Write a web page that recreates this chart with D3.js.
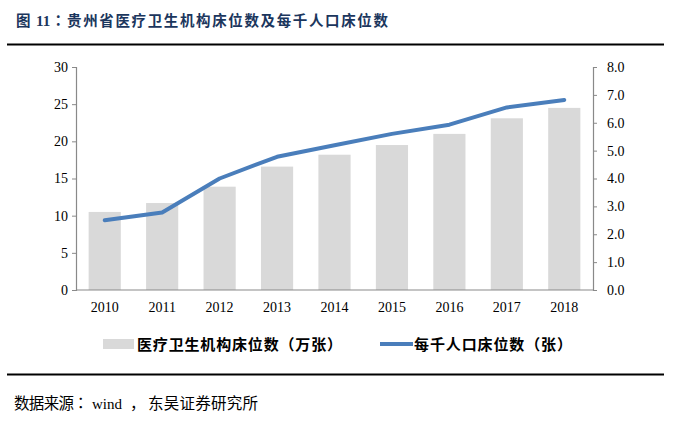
<!DOCTYPE html>
<html><head><meta charset="utf-8">
<script src="https://cdn.jsdelivr.net/npm/d3@7"></script>
<style>body{margin:0;background:#fff;}svg{display:block;}</style>
</head><body>
<svg id="c" width="686" height="428"></svg>
<script>
const years = ["2010","2011","2012","2013","2014","2015","2016","2017","2018"];
const beds = [10.5, 11.7, 13.9, 16.6, 18.2, 19.5, 21.0, 23.1, 24.5];
const bedsPerThousand = [2.50, 2.78, 4.00, 4.78, 5.19, 5.60, 5.93, 6.55, 6.82];
const leftTicks = [0,5,10,15,20,25,30];
const rightTicks = [0,1,2,3,4,5,6,7,8];
const titleParts = ["图", "11", "：", "贵州省医疗卫生机构床位数及每千人口床位数"];
const legendBar = "医疗卫生机构床位数（万张）";
const legendLine = "每千人口床位数（张）";
const sourceParts = ["数据来源", "：", "wind", "，", "东吴证券研究所"];

const svg = d3.select("#c");
const serif = "'Liberation Serif','Times New Roman',serif";
const cjk = "'Noto Sans CJK SC','Noto Sans',sans-serif";
const cjkTC = "'Noto Sans CJK TC','Noto Sans CJK SC',sans-serif";

// title
const tt = svg.append("text").attr("y", 26).attr("font-weight", "bold")
  .attr("font-size", 14.5).attr("fill", "#1b365d");
tt.append("tspan").attr("x", 16).attr("font-family", cjk).text(titleParts[0]);
tt.append("tspan").attr("x", 36).attr("font-family", serif).attr("font-size", 15).text(titleParts[1]);
tt.append("tspan").attr("x", 51).attr("font-family", cjkTC).text(titleParts[2]);
tt.append("tspan").attr("x", 67).attr("font-family", cjk).attr("textLength", 321)
  .attr("lengthAdjust", "spacing").text(titleParts[3]);
svg.append("line").attr("x1", 7).attr("x2", 664).attr("y1", 44.5).attr("y2", 44.5)
  .attr("stroke", "#000").attr("stroke-width", 2);

const L = 76, R = 593, T = 67, B = 290;
const x = d3.scaleBand().domain(years).range([L, R]).paddingInner(0.44).paddingOuter(0.22);
const yL = d3.scaleLinear().domain([0, 30]).range([B, T]);
const yR = d3.scaleLinear().domain([0, 8]).range([B, T]);

// bars
svg.append("g").selectAll("rect").data(years).join("rect")
  .attr("x", d => x(d)).attr("width", x.bandwidth())
  .attr("y", (d,i) => yL(beds[i])).attr("height", (d,i) => B - yL(beds[i]))
  .attr("fill", "#d9d9d9");

// line
const line = d3.line().x((d,i) => x(years[i]) + x.bandwidth()/2).y(d => yR(d));
svg.append("path").datum(bedsPerThousand).attr("d", line)
  .attr("fill", "none").attr("stroke", "#4a7ebb").attr("stroke-width", 4)
  .attr("stroke-linejoin", "round").attr("stroke-linecap", "round");

// axes
const axColor = "#898989";
const gL = svg.append("g").attr("transform", `translate(${L},0)`)
  .call(d3.axisLeft(yL).tickValues(leftTicks).tickSize(4).tickPadding(4).tickFormat(d3.format("d")));
const gR = svg.append("g").attr("transform", `translate(${R},0)`)
  .call(d3.axisRight(yR).tickValues(rightTicks).tickSize(4).tickPadding(10).tickFormat(d3.format(".1f")));
const gB = svg.append("g").attr("transform", `translate(0,${B})`)
  .call(d3.axisBottom(x).tickSize(0).tickPadding(12));
[gL, gR, gB].forEach(g => {
  g.select(".domain").attr("stroke", axColor).attr("stroke-width", 1.2);
  g.selectAll(".tick line").attr("stroke", axColor);
  g.selectAll("text").attr("font-family", serif).attr("font-size", 14).attr("fill", "#000");
});
gB.select(".domain").attr("d", `M${L},0H${R}`);

// legend
const ly = 344;
svg.append("rect").attr("x", 103).attr("y", ly - 5).attr("width", 31).attr("height", 10).attr("fill", "#d9d9d9");
svg.append("text").attr("x", 137).attr("y", ly + 5.5).attr("font-family", cjk).attr("font-weight", "bold")
  .attr("font-size", 15).attr("fill", "#000").attr("textLength", 205).attr("lengthAdjust", "spacing").text(legendBar);
svg.append("line").attr("x1", 380).attr("x2", 413).attr("y1", ly).attr("y2", ly)
  .attr("stroke", "#4a7ebb").attr("stroke-width", 4);
svg.append("text").attr("x", 414).attr("y", ly + 5.5).attr("font-family", cjk).attr("font-weight", "bold")
  .attr("font-size", 15).attr("fill", "#000").attr("textLength", 158).attr("lengthAdjust", "spacing").text(legendLine);

svg.append("line").attr("x1", 7).attr("x2", 664).attr("y1", 374.5).attr("y2", 374.5)
  .attr("stroke", "#000").attr("stroke-width", 2);
const st = svg.append("text").attr("y", 409).attr("font-size", 15.5).attr("fill", "#000");
st.append("tspan").attr("x", 14).attr("font-family", cjk).attr("textLength", 60).attr("lengthAdjust", "spacing").text(sourceParts[0]);
st.append("tspan").attr("x", 73).attr("font-family", cjkTC).text(sourceParts[1]);
st.append("tspan").attr("x", 92).attr("font-family", serif).attr("font-size", 15).text(sourceParts[2]);
st.append("tspan").attr("x", 130).attr("font-family", cjk).text(sourceParts[3]);
st.append("tspan").attr("x", 148).attr("font-family", cjk).attr("textLength", 110).attr("lengthAdjust", "spacing").text(sourceParts[4]);
</script>
</body></html>
